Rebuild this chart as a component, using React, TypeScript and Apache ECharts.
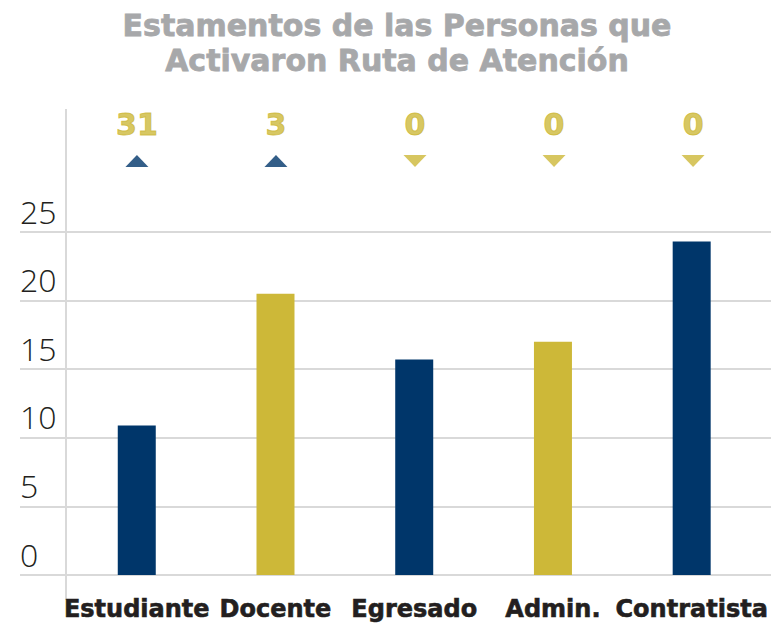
import React, { useEffect, useRef } from "react";
import * as echarts from "echarts";

// ---- data ----
const categories = ["Estudiante", "Docente", "Egresado", "Admin.", "Contratista"];
const barValues = [10.9, 20.5, 15.7, 17.0, 24.3];
const barColorKeys = ["navy", "gold", "navy", "gold", "navy"];
const trendCounts = [31, 3, 0, 0, 0];
const trendDirections = ["up", "up", "down", "down", "down"];
const yMin = 0;
const yMax = 25;
const yInterval = 5;
const titleLines = ["Estamentos de las Personas que", "Activaron Ruta de Atención"];

const palette: Record<string, string> = {
  navy: "#00366a",
  gold: "#cdb838",
};

export default function App() {
  const ref = useRef<HTMLDivElement>(null);
  useEffect(() => {
    const chart = echarts.init(ref.current!, null, { renderer: "svg" });
    const gridTop = 232;
    const gridBottom = 51;
    chart.setOption({
      animation: false,
      backgroundColor: "#ffffff",
      graphic: [
        {
          type: "text",
          x: 397,
          y: 8,
          style: {
            text: titleLines.join("\n"),
            textAlign: "center",
            textVerticalAlign: "top",
            fontFamily: "DejaVu Sans",
            fontWeight: "bold",
            fontSize: 30,
            lineHeight: 35,
            fill: "#a7a8aa",
            stroke: "#a7a8aa",
            lineWidth: 0.8,
          },
        },
        {
          type: "line",
          shape: { x1: 66, y1: 109, x2: 66, y2: 600 },
          style: { stroke: "#d9d9d9", lineWidth: 2 },
        },
      ],
      grid: [
        { left: 20, right: 0, top: gridTop, bottom: gridBottom },
        { left: 67.4, right: 8.4, top: gridTop, bottom: gridBottom },
        { left: 67.4, right: 8.4, top: 100, bottom: 465 },
      ],
      xAxis: [
        { gridIndex: 0, type: "value", show: false, min: 0, max: 1 },
        {
          gridIndex: 1,
          type: "category",
          data: categories,
          axisLine: { show: false },
          axisTick: { show: false },
          axisLabel: {
            interval: 0,
            margin: 22,
            fontFamily: "DejaVu Sans",
            fontWeight: "bold",
            fontSize: 24,
            color: "#231f20",
            textBorderColor: "#231f20",
            textBorderWidth: 0.6,
          },
        },
        { gridIndex: 2, type: "category", data: categories, show: false },
      ],
      yAxis: [
        {
          gridIndex: 0,
          type: "value",
          min: yMin,
          max: yMax,
          interval: yInterval,
          axisLine: { show: false },
          axisTick: { show: false },
          splitLine: { lineStyle: { color: "#d9d9d9", width: 2 } },
          axisLabel: {
            align: "left",
            margin: 0,
            verticalAlign: "bottom",
            lineHeight: 42,
            fontFamily: "Open Sans",
            fontWeight: 300,
            fontSize: 32,
            color: "#231f20",
          },
        },
        { gridIndex: 1, type: "value", min: yMin, max: yMax, interval: yInterval, show: false },
        { gridIndex: 2, type: "value", min: 0, max: 1, show: false },
      ],
      series: [
        {
          type: "bar",
          xAxisIndex: 1,
          yAxisIndex: 1,
          barWidth: 38,
          data: barValues.map((v, i) => ({
            value: v,
            itemStyle: { color: palette[barColorKeys[i]] },
          })),
        },
        {
          type: "scatter",
          xAxisIndex: 2,
          yAxisIndex: 2,
          clip: false,
          symbol: "triangle",
          symbolSize: [23, 12],
          data: trendCounts.map((c, i) => ({
            value: 0,
            symbolRotate: trendDirections[i] === "down" ? 180 : 0,
            itemStyle: { color: trendDirections[i] === "down" ? palette.gold : palette.navy },
          })),
          label: {
            show: true,
            position: "top",
            distance: 16,
            formatter: (p: any) => String(trendCounts[p.dataIndex]),
            fontFamily: "DejaVu Sans",
            fontWeight: "bold",
            fontSize: 30,
            color: palette.gold,
            textBorderColor: palette.gold,
            textBorderWidth: 1,
          },
        },
      ],
    });
    return () => chart.dispose();
  }, []);
  return (
    <div
      ref={ref}
      style={{ position: "absolute", left: 0, top: 0, width: 771, height: 626 }}
    />
  );
}
